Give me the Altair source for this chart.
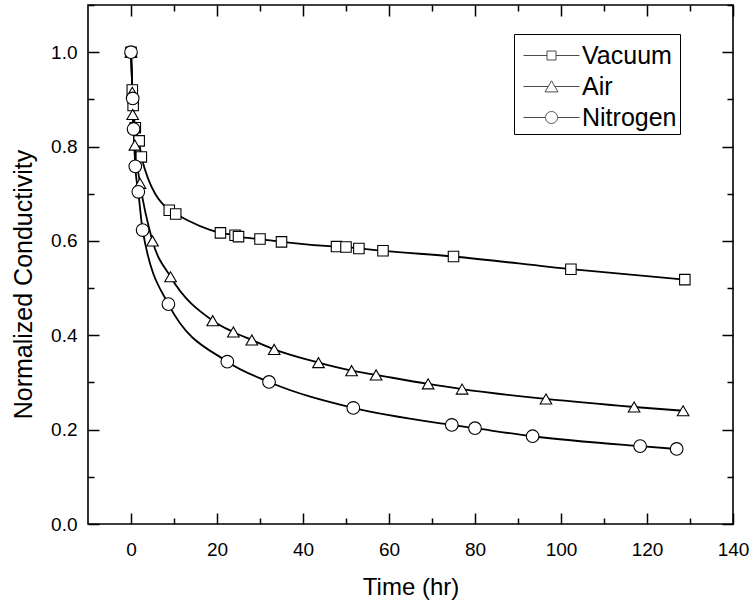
import altair as alt
import pandas as pd

series = ["Vacuum", "Air", "Nitrogen"]

vac_t = [0, 0.3, 0.5, 1.0, 1.9, 2.4, 8.9, 10.4, 20.8, 24.2, 25.0, 30.0, 35.0, 47.8, 50.0, 53.0, 58.6, 75.0, 102.3, 128.8]
vac_v = [1.0, 0.92, 0.887, 0.84, 0.812, 0.778, 0.665, 0.657, 0.617, 0.612, 0.609, 0.604, 0.598, 0.588, 0.587, 0.584, 0.579, 0.567, 0.540, 0.518]

air_t = [0, 0.3, 0.4, 0.9, 2.1, 5.0, 9.2, 19.0, 23.8, 28.1, 33.3, 43.6, 51.3, 57.0, 69.1, 77.0, 96.5, 117.0, 128.4]
air_v = [1.0, 0.915, 0.868, 0.803, 0.722, 0.600, 0.524, 0.431, 0.407, 0.390, 0.370, 0.342, 0.325, 0.316, 0.297, 0.286, 0.265, 0.248, 0.240]

nit_t = [0, 0.4, 0.6, 1.0, 1.7, 2.7, 8.7, 22.4, 32.1, 51.7, 74.6, 80.0, 93.4, 118.4, 126.9]
nit_v = [1.0, 0.902, 0.837, 0.758, 0.704, 0.623, 0.466, 0.344, 0.301, 0.246, 0.210, 0.203, 0.186, 0.165, 0.159]

x_ticks = list(range(0, 150, 10))
x_labels = list(range(0, 150, 20))
y_ticks = [round(i * 0.1, 1) for i in range(0, 12)]
y_labels = [round(i * 0.2, 1) for i in range(0, 6)]

rows = []
for name, ts, vs in [("Vacuum", vac_t, vac_v), ("Air", air_t, air_v), ("Nitrogen", nit_t, nit_v)]:
    for t, v in zip(ts, vs):
        rows.append({"series": name, "t": t, "v": v})
df = pd.DataFrame(rows)

W, H = 645, 519
FONT = "Liberation Sans"

xscale = alt.Scale(domain=[-10, 140], nice=False, zero=False)
yscale = alt.Scale(domain=[0, 1.1], nice=False, zero=False)

# negative sizes point the ticks into the plot (major / minor)
xtick_size = {"condition": {"test": "datum.value % 20 === 0", "value": -11}, "value": -6}
ytick_size = {"condition": {"test": "round(datum.value * 10) % 2 === 0", "value": -11}, "value": -6}

tick_common = dict(labels=False, domain=False, grid=False, ticks=True, tickColor="black",
                   tickWidth=1.5, title=None)

axis_x_main = alt.Axis(values=x_labels, format="d", labelFontSize=19, labelFont=FONT,
                       labelColor="black", ticks=False, tickSize=0, domain=False, grid=False,
                       labelFlush=False, labelPadding=16, title="Time (hr)", titleFont=FONT,
                       titleFontSize=24, titleFontWeight="normal", titleColor="black",
                       titlePadding=16)
axis_y_main = alt.Axis(values=y_labels, format=".1f", labelFontSize=19, labelFont=FONT,
                       labelColor="black", ticks=False, tickSize=0, domain=False, grid=False,
                       labelFlush=False, labelPadding=11, title="Normalized Conductivity",
                       titleFont=FONT, titleFontSize=25, titleFontWeight="normal",
                       titleColor="black", titlePadding=14, titleY=279)

axis_x_bottom_ticks = alt.Axis(orient="bottom", values=x_ticks, tickSize=xtick_size, **tick_common)
axis_x_top_ticks = alt.Axis(orient="top", values=x_ticks, tickSize=xtick_size, **tick_common)
axis_y_left_ticks = alt.Axis(orient="left", values=y_ticks, tickSize=ytick_size, **tick_common)
axis_y_right_ticks = alt.Axis(orient="right", values=y_ticks, tickSize=ytick_size, **tick_common)

base = alt.Chart(df)

lines = base.mark_line(interpolate="monotone", color="black").encode(
    x=alt.X("t:Q", scale=xscale, axis=axis_x_main),
    y=alt.Y("v:Q", scale=yscale, axis=axis_y_main),
    detail="series:N",
    strokeWidth=alt.StrokeWidth("series:N", scale=alt.Scale(domain=series, range=[1.8, 1.8, 1.0]), legend=None),
)

points = base.mark_point(filled=True, fill="white", stroke="black", strokeWidth=1.1, opacity=1).encode(
    x=alt.X("t:Q", scale=xscale, axis=axis_x_bottom_ticks),
    y=alt.Y("v:Q", scale=yscale, axis=axis_y_left_ticks),
    shape=alt.Shape("series:N", scale=alt.Scale(domain=series, range=["square", "triangle-up", "circle"]), legend=None),
    size=alt.Size("series:N", scale=alt.Scale(domain=series, range=[110, 160, 121]), legend=None),
)

# legend symbols: line segment with the marker in its middle (unit = 6 px at symbolSize 144)
path_sq = "M-1,0L2.92,0M4.42,0L8.33,0M2.92,-0.75L4.42,-0.75L4.42,0.75L2.92,0.75Z"
path_tri = "M-1,0L3.115,0M4.225,0L8.33,0M3.67,-0.95L4.75,0.9L2.59,0.9Z"
path_cir = "M-1,0L2.67,0M4.67,0L8.33,0M4.67,0A1,1 0 1,1 2.67,0A1,1 0 1,1 4.67,0Z"

legend_layer = base.transform_filter("false").mark_point(filled=False, color="black", strokeWidth=1).encode(
    x=alt.X("t:Q", scale=xscale, axis=axis_x_top_ticks),
    y=alt.Y("v:Q", scale=yscale, axis=axis_y_right_ticks),
    shape=alt.Shape("series:N", scale=alt.Scale(domain=series, range=[path_sq, path_tri, path_cir]),
                    legend=alt.Legend(title=" ", titleFontSize=1, titlePadding=5,
                                      orient="none", legendX=426, legendY=29,
                                      symbolSize=144, symbolStrokeColor="black", symbolStrokeWidth=1,
                                      symbolFillColor="white",
                                      labelFont=FONT, labelFontSize=25, labelColor="black",
                                      labelOffset=40, rowPadding=5, padding=3,
                                      strokeColor="black", fillColor="white")),
)

chart = alt.layer(lines, points, legend_layer).resolve_scale(
    shape="independent", size="independent", strokeWidth="independent"
).resolve_axis(
    x="independent", y="independent"
).properties(
    width=W, height=H,
    autosize=alt.AutoSizeParams(type="none"),
    padding={"left": 88, "top": 5, "right": 20, "bottom": 81},
    background="white",
).configure_view(stroke="black", strokeWidth=1.6)

chart.save("out.html", embed_options={"renderer": "svg", "actions": False})
